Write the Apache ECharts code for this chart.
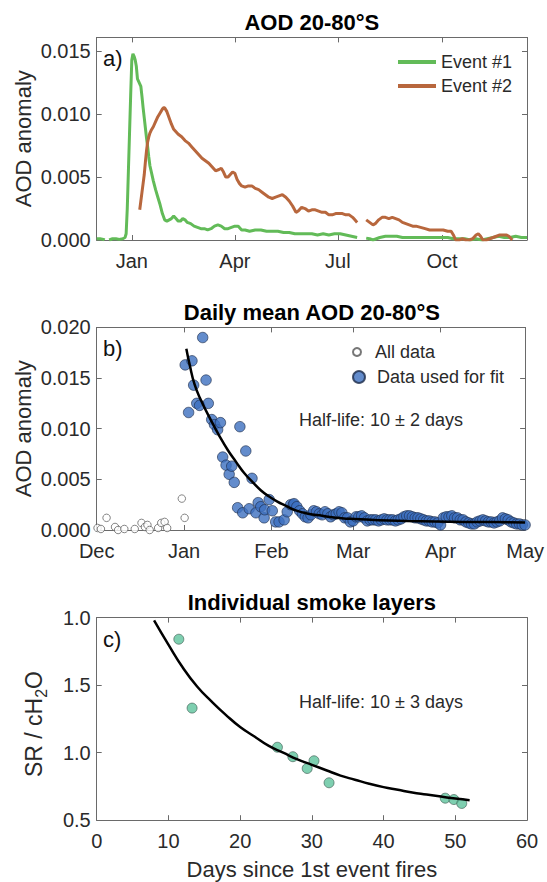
<!DOCTYPE html>
<html><head><meta charset="utf-8">
<script src="https://cdn.jsdelivr.net/npm/echarts@6/dist/echarts.min.js"></script>
<style>html,body{margin:0;padding:0;background:#fff}#c{width:547px;height:882px}</style>
</head><body><div id="c"></div>
<script>
const FONT = '"Liberation Sans", Arial, Helvetica, sans-serif';

// ---------- Panel a: AOD 20-80°S (days since 1 Dec 2019) ----------
const aMonthTicks = [31, 122, 213, 305];
const aMonthLabels = ['Jan', 'Apr', 'Jul', 'Oct'];
const aYTicks = [0, 0.005, 0.010, 0.015];
const event1Days = [0,3,6,7,9,11,14,17,20,23,25,26,27,28,29,30,31,32,33,34,35,36,37,38,39,40,41,42,43,44,45,46,47,48,50,52,54,56,58,60,62,64,66,68,70,72,74,76,78,80,83,86,89,92,95,98,101,104,107,110,113,116,119,122,125,128,131,135,140,145,150,155,160,165,170,175,180,185,190,195,200,205,210,215,220,225,230,234,238,241,244,247,250,255,260,265,270,275,280,285,290,295,300,305,310,315,320,325,330,335,340,345,350,355,360,365,370,375,380];
const event1Vals = [0.0001,0.0001,0.00005,0.0,null,0.0,0.0001,0.0001,0.00005,0.0001,0.0002,0.0005,0.0025,0.0055,0.0085,0.0115,0.0143,0.0148,0.0146,0.0143,0.0138,0.0128,0.0126,0.0124,0.0122,0.0114,0.0105,0.0097,0.0089,0.0081,0.0074,0.0066,0.0059,0.0055,0.0047,0.0040,0.0034,0.0028,0.0021,0.0016,0.0015,0.0016,0.0017,0.0019,0.0017,0.0015,0.0015,0.0017,0.0016,0.0014,0.0013,0.0011,0.0010,0.0009,0.0009,0.0008,0.0009,0.0011,0.0012,0.0011,0.0009,0.0009,0.0010,0.0011,0.0011,0.0008,0.0008,0.0007,0.0008,0.0008,0.0007,0.0007,0.0007,0.0006,0.0006,0.0005,0.0005,0.0005,0.0005,0.0004,0.0005,0.0004,0.0005,0.0005,0.0004,0.0003,0.0002,null,0.00015,0.0001,0.0,0.0001,0.0002,0.0003,0.0003,0.0003,0.0002,0.0002,0.0002,0.0002,0.0002,0.0002,0.0002,0.0002,0.0002,0.0001,0.0001,0.0001,0.0,0.0001,0.0,0.0001,0.0002,0.0003,0.0002,0.0002,0.0003,0.0002,0.0002];
const event2Days = [38,39,40,41,42,43,44,45,46,47,48,50,52,54,56,58,59,60,62,64,66,68,70,72,75,78,81,84,87,90,93,96,99,102,105,108,110,112,114,116,118,120,122,124,126,128,131,134,137,140,143,146,149,152,155,158,161,164,167,170,173,176,178,181,184,187,190,193,196,199,202,205,208,211,214,217,220,223,226,228,230,234,238,241,244,246,249,252,255,258,261,264,267,270,273,276,279,282,286,290,294,298,302,306,310,313,315,317,320,323,326,329,332,335,337,339,341,344,347,350,353,356,359,362,364,366,367];
const event2Vals = [0.0024,0.0031,0.0038,0.0045,0.0052,0.0062,0.0071,0.0078,0.0082,0.0085,0.0087,0.0090,0.0094,0.0098,0.0101,0.0104,0.0105,0.0105,0.0102,0.0097,0.0092,0.0088,0.0086,0.0084,0.0082,0.0079,0.0077,0.0074,0.0071,0.0068,0.0065,0.0063,0.0061,0.0058,0.0055,0.0056,0.0057,0.0054,0.0050,0.0050,0.0052,0.0054,0.0053,0.0048,0.0045,0.0043,0.0042,0.0043,0.0043,0.0041,0.0040,0.0038,0.0036,0.0034,0.0033,0.0034,0.0035,0.0036,0.0034,0.0031,0.0027,0.0022,0.0023,0.0026,0.0025,0.0023,0.0024,0.0024,0.0023,0.0022,0.0022,0.0020,0.0020,0.0021,0.0021,0.0021,0.0020,0.0020,0.0018,0.0016,0.0014,null,0.0016,0.0014,0.0012,0.0013,0.0016,0.0018,0.0018,0.0017,0.0018,0.0017,0.0016,0.0014,0.0013,0.0012,0.0011,0.0011,0.0010,0.0009,0.0008,0.0008,0.0008,0.0008,0.0007,0.0007,0.0004,0.0,0.0,0.0001,0.0,0.0,0.0001,0.0004,0.0005,0.0003,0.0,0.0,0.0001,0.0002,0.0003,0.0004,0.0004,0.0004,0.0003,0.0001,0.0];

// ---------- Panel b: Daily mean AOD 20-80°S (days since 1 Dec 2019) ----------
const bMonthTicks = [0, 31, 62, 91, 122, 152];
const bMonthLabels = ['Dec', 'Jan', 'Feb', 'Mar', 'Apr', 'May'];
const bYTicks = [0, 0.005, 0.010, 0.015, 0.020];
const allDays = [0.3,1.5,3.5,6.5,7.6,9.8,13.5,15.9,17.1,18,18.8,21.8,22.9,24.1,25,30.2,31.2];
const allVals = [0.0002,0.0001,0.0012,0.0003,0.0,0.0001,0.0001,0.0007,0.0003,0.0005,0.0,0.0002,0.0007,0.0008,0.0002,0.0031,0.0012];
const fitDays = [31.4,32.6,33.8,34.4,35.5,36.5,37.6,38.8,39.6,40.8,41.8,42.9,43.9,44.7,45.9,47.0,47.9,48.8,50.0,50.8,51.8,52.9,54.1,55.1,56.5,57.3,58.2,59.4,59.6,61.2,62.3,63.5,64.7,66.5,67.6,68.8,69.8,70,71,72,73,74,75,76,77,78,79,80,81,82,83,84,85,86,87,88,89,90,91,92,93,94,95,96,97,98,99,100,101,102,103,104,105,106,107,108,109,110,111,112,113,114,115,116,117,118,119,120,121,122,123,124,125,126,127,128,129,130,131,132,133,134,135,136,137,138,139,140,141,142,143,144,145,146,147,148,149,150,151,152];
const fitVals = [0.0163,0.0116,0.0167,0.0143,0.0125,0.0123,0.0190,0.0148,0.0125,0.0109,0.0104,0.0099,0.0106,0.0072,0.0064,0.0055,0.0063,0.0047,0.0022,0.0102,0.0017,0.0078,0.0021,0.0051,0.0017,0.0027,0.0023,0.0012,0.0020,0.0030,0.0019,0.0008,0.0008,0.0010,0.0018,0.0025,0.0025,0.0026,0.0023,0.0019,0.0016,0.0013,0.0012,0.0015,0.0019,0.0018,0.0016,0.0015,0.0018,0.0016,0.0013,0.0015,0.0016,0.0018,0.0017,0.0012,0.0012,0.0008,0.0009,0.0013,0.0013,0.0014,0.0012,0.0009,0.0010,0.0010,0.0010,0.0009,0.0010,0.0011,0.0010,0.0010,0.0010,0.0009,0.0010,0.0011,0.0013,0.0014,0.0014,0.0013,0.0012,0.0012,0.0011,0.0010,0.0009,0.0009,0.0008,0.0008,0.0007,0.0005,0.0012,0.0013,0.0013,0.0014,0.0012,0.0012,0.0010,0.0010,0.0008,0.0007,0.0006,0.0006,0.0008,0.0009,0.0010,0.0009,0.0008,0.0008,0.0007,0.0008,0.0009,0.0012,0.0011,0.0010,0.0008,0.0007,0.0006,0.0006,0.0005,0.0005];
const bCurveDays = [31.8,33,34.7,37,40.6,43.5,46.5,49.5,52.4,55.4,58.3,61.2,64.1,67,70,75,80,85,90,100,110,120,130,140,152];
const bCurveVals = [0.0179,0.0163,0.0144,0.0128,0.0108,0.0093,0.0079,0.0067,0.0056,0.0047,0.0039,0.0033,0.0028,0.0024,0.0020,0.0016,0.0014,0.0012,0.0011,0.00097,0.0009,0.00085,0.0008,0.00078,0.00075];

// ---------- Panel c: Individual smoke layers ----------
const cXTicks = [0, 10, 20, 30, 40, 50, 60];
const cYTicks = [0.5, 1.0, 1.5, 2.0];
const cYLabels = ['0.5', '1.0', '1.5', '1.0'];
const layerDays = [11.45,13.3,25.2,27.35,29.35,30.3,32.4,48.6,49.8,50.9];
const layerVals = [1.84,1.33,1.04,0.97,0.883,0.94,0.777,0.663,0.653,0.624];
const cCurveDays = [8,10,12,14,16,18,20,22,24,26,28,30,32,34,36,38,40,42,44,46,48,50,52];
const cCurveVals = [1.98,1.80,1.63,1.49,1.38,1.28,1.19,1.12,1.05,1.00,0.95,0.91,0.87,0.83,0.80,0.77,0.745,0.725,0.705,0.69,0.675,0.66,0.648];

// ---------- layout ----------
const L = 96.7, W = 430.3, H = 202.6;
const tops = [37.4, 327.4, 617.6];
const AX = '#6a6a6a', TXT = '#2a2a2a';

const pair = (xs, ys) => xs.map((x, i) => [x, ys[i] === null ? '-' : ys[i]]);
const lookup = (ticks, labels) => v => {
  for (let i = 0; i < ticks.length; i++) if (Math.abs(ticks[i] - v) < 1e-9) return labels[i];
  return '';
};

function xAxes(g, min, max, ticks, fmt) {
  const base = {
    type: 'value', gridIndex: g, min: min, max: max,
    axisLine: {show: true, onZero: false, lineStyle: {color: AX, width: 1}},
    splitLine: {show: false}
  };
  return [
    Object.assign({}, base, {position: 'bottom',
      axisTick: {show: true, inside: true, length: 5, customValues: ticks, lineStyle: {color: AX}},
      axisLabel: {show: true, customValues: ticks, formatter: fmt, fontSize: 20, color: TXT, fontFamily: FONT, margin: 11}}),
    Object.assign({}, base, {position: 'top',
      axisTick: {show: true, inside: true, length: 5, customValues: ticks, lineStyle: {color: AX}},
      axisLabel: {show: false}})
  ];
}
function yAxes(g, min, max, ticks, fmt) {
  const base = {
    type: 'value', gridIndex: g, min: min, max: max,
    axisLine: {show: true, onZero: false, lineStyle: {color: AX, width: 1}},
    splitLine: {show: false}
  };
  return [
    Object.assign({}, base, {position: 'left',
      axisTick: {show: true, inside: true, length: 5, customValues: ticks, lineStyle: {color: AX}},
      axisLabel: {show: true, customValues: ticks, formatter: fmt, fontSize: 20, color: TXT, fontFamily: FONT, margin: 6}}),
    Object.assign({}, base, {position: 'right',
      axisTick: {show: true, inside: true, length: 5, customValues: ticks, lineStyle: {color: AX}},
      axisLabel: {show: false}})
  ];
}

const fix3 = v => v.toFixed(3);

const txt = (text, x, y, size, opts) => Object.assign({
  type: 'text', x: x, y: y, silent: true,
  style: Object.assign({text: text, fontSize: size, fontFamily: FONT, fill: TXT, align: 'center', verticalAlign: 'middle'}, (opts && opts.style) || {})
}, (opts && opts.el) || {});

const legendText = {fontSize: 18, lineHeight: 20, color: TXT, fontFamily: FONT};

const option = {
  animation: false,
  backgroundColor: '#fff',
  grid: tops.map(t => ({left: L, top: t, width: W, height: H})),
  xAxis: [].concat(
    xAxes(0, 0, 380, aMonthTicks, lookup(aMonthTicks, aMonthLabels)),
    xAxes(1, 0, 152, bMonthTicks, lookup(bMonthTicks, bMonthLabels)),
    xAxes(2, 0, 60, cXTicks, v => String(v))
  ),
  yAxis: [].concat(
    yAxes(0, 0, 0.0161, aYTicks, fix3),
    yAxes(1, 0, 0.020, bYTicks, fix3),
    yAxes(2, 0.5, 2.0, cYTicks, lookup(cYTicks, cYLabels))
  ),
  legend: [
    {data: ['Event #1', 'Event #2'], orient: 'vertical', left: 398, top: 52, padding: 0, itemWidth: 38, itemHeight: 4, icon: 'rect', itemGap: 4,
     textStyle: legendText, selectedMode: false},
    {data: ['All data'], left: 352, top: 342, padding: 0, itemWidth: 26, itemHeight: 8, icon: 'circle',
     textStyle: legendText, selectedMode: false},
    {data: ['Data used for fit'], left: 352, top: 367, padding: 0, itemWidth: 26, itemHeight: 12, icon: 'circle',
     textStyle: legendText, selectedMode: false}
  ],
  series: [
    {name: 'Event #1', type: 'line', xAxisIndex: 0, yAxisIndex: 0, data: pair(event1Days, event1Vals),
     showSymbol: false, symbol: 'none', connectNulls: false, lineStyle: {width: 3, color: '#62bb58'}, itemStyle: {color: '#62bb58'}},
    {name: 'Event #2', type: 'line', xAxisIndex: 0, yAxisIndex: 0, data: pair(event2Days, event2Vals),
     showSymbol: false, symbol: 'none', connectNulls: false, lineStyle: {width: 3, color: '#b8673d'}, itemStyle: {color: '#b8673d'}},
    {name: 'All data', type: 'scatter', xAxisIndex: 2, yAxisIndex: 2, data: pair(allDays, allVals),
     symbolSize: 7.5, itemStyle: {color: '#ffffff', borderColor: '#555555', borderWidth: 0.9}},
    {name: 'Data used for fit', type: 'scatter', xAxisIndex: 2, yAxisIndex: 2, data: pair(fitDays, fitVals),
     symbolSize: 10.5, itemStyle: {color: '#3c6fbf', borderColor: '#1d2c4a', borderWidth: 0.8}},
    {name: 'fit b', type: 'line', xAxisIndex: 2, yAxisIndex: 2, data: pair(bCurveDays, bCurveVals),
     smooth: true, showSymbol: false, symbol: 'none', lineStyle: {width: 2.5, color: '#000'}},
    {name: 'fit c', type: 'line', xAxisIndex: 4, yAxisIndex: 4, data: pair(cCurveDays, cCurveVals),
     smooth: true, showSymbol: false, symbol: 'none', lineStyle: {width: 2.5, color: '#000'}},
    {name: 'layers', type: 'scatter', xAxisIndex: 4, yAxisIndex: 4, data: pair(layerDays, layerVals),
     symbolSize: 10, itemStyle: {color: '#5ec39c', borderColor: '#3a5a4e', borderWidth: 0.8}}
  ],
  graphic: [
    txt('AOD 20-80°S', L + W / 2, 22, 22, {style: {fontWeight: 'bold', fill: '#000'}}),
    txt('Daily mean AOD 20-80°S', L + W / 2, 312, 22, {style: {fontWeight: 'bold', fill: '#000'}}),
    txt('Individual smoke layers', L + W / 2, 602, 22, {style: {fontWeight: 'bold', fill: '#000'}}),
    txt('a)', 103, tops[0] + 21.5, 22, {style: {align: 'left', fill: '#111'}}),
    txt('b)', 103, tops[1] + 21.5, 22, {style: {align: 'left', fill: '#111'}}),
    txt('c)', 103, tops[2] + 21.5, 22, {style: {align: 'left', fill: '#111'}}),
    txt('AOD anomaly', 23, tops[0] + H / 2, 22, {el: {rotation: Math.PI / 2}}),
    txt('AOD anomaly', 23, tops[1] + H / 2, 22, {el: {rotation: Math.PI / 2}}),
    {type: 'text', x: 34, y: 724, rotation: Math.PI / 2, silent: true,
     style: {text: '{n|SR / cH}{s|2}{n|O}', align: 'center', verticalAlign: 'middle',
       rich: {n: {fontSize: 23, lineHeight: 30, fontFamily: FONT, fill: TXT},
              s: {fontSize: 16, lineHeight: 30, fontFamily: FONT, fill: TXT, verticalAlign: 'bottom'}}}},
    txt('Days since 1st event fires', L + W / 2, 869, 22),
    txt('Half-life: 10 ± 2 days', 381, 420, 18),
    txt('Half-life: 10 ± 3 days', 381, 702, 18)
  ]
};

const chart = echarts.init(document.getElementById('c'), null, {renderer: 'svg', width: 547, height: 882});
chart.setOption(option);
</script>
</body></html>
